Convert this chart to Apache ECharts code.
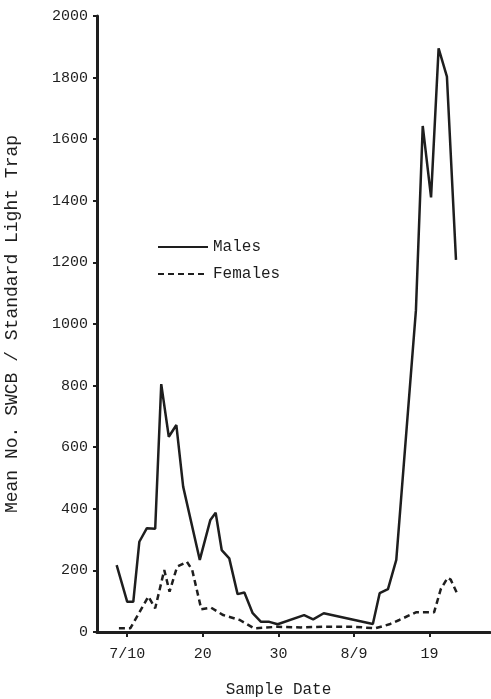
<!DOCTYPE html>
<html>
<head>
<meta charset="utf-8">
<script src="https://cdn.jsdelivr.net/npm/echarts@6/dist/echarts.min.js"></script>
<style>
html,body{margin:0;padding:0;background:#fff;}
#c{width:491px;height:699px;}
</style>
</head>
<body>
<div id="c"></div>
<script>
// Day numbers counted from July 1 (7/10 = 10, 8/9 = 40, 8/19 = 50)
const tickDays = [10, 20, 30, 40, 50];
const tickLabels = ['7/10', '20', '30', '8/9', '19'];

const maleDays = [8.6, 10, 10.8, 11.6, 12.6, 13.7, 14.5, 15.5, 16.5, 17.4, 19.6, 21, 21.7, 22.5, 23.5, 24.6, 25.5, 26.6, 27.7, 28.8, 29.9, 33.4, 34.6, 36, 42.5, 43.4, 44.5, 45.6, 48.2, 49.1, 50.2, 51.2, 52.3, 53.5];
const maleValues = [217, 98, 98, 293, 337, 335, 805, 634, 672, 472, 234, 364, 387, 266, 239, 123, 128, 61, 33, 33, 25, 55, 41, 61, 26, 126, 139, 234, 1045, 1643, 1411, 1895, 1803, 1208];

const femaleDays = [8.9, 10.4, 12.8, 13.7, 14.9, 15.6, 16.6, 17.9, 18.6, 19.8, 21.1, 22.7, 24.9, 26.8, 29.9, 33, 36, 40, 42.8, 44.7, 46, 48.2, 50.6, 51.5, 52.4, 52.8, 53.8];
const femaleValues = [12, 12, 115, 77, 201, 131, 212, 228, 201, 74, 79, 55, 39, 12, 17, 15, 17, 17, 12, 25, 39, 64, 64, 140, 176, 170, 117];

const FONT = "'Courier New', 'Liberation Mono', 'DejaVu Sans Mono', monospace";
const INK = '#1e1e1e';

const chart = echarts.init(document.getElementById('c'));
chart.setOption({
  backgroundColor: '#fff',
  animation: false,
  grid: { left: 97, right: 1, top: 16, bottom: 67, containLabel: false, outerBoundsMode: 'none' },
  legend: {
    orient: 'vertical',
    left: 152, top: 234,
    itemWidth: 50, itemHeight: 10, itemGap: 11,
    itemStyle: { opacity: 0 },
    textStyle: { fontFamily: FONT, fontSize: 16, color: INK },
    data: ['Males', 'Females']
  },
  xAxis: {
    type: 'value',
    min: 6, max: 58,
    name: 'Sample Date',
    nameLocation: 'middle',
    nameGap: 50,
    nameTextStyle: { fontFamily: FONT, fontSize: 16, color: INK, padding: [0, 30, 0, 0] },
    axisLine: { show: true, lineStyle: { color: INK, width: 3 } },
    axisTick: { show: true, length: 5, lineStyle: { color: INK, width: 2 }, customValues: tickDays },
    axisLabel: {
      customValues: tickDays,
      margin: 15,
      fontFamily: FONT, fontSize: 15, color: INK,
      formatter: v => tickLabels[tickDays.indexOf(v)] || ''
    },
    splitLine: { show: false }
  },
  yAxis: {
    type: 'value',
    min: 0, max: 2000, interval: 200,
    name: 'Mean No. SWCB / Standard Light Trap',
    nameLocation: 'middle',
    nameGap: 76,
    nameTextStyle: { fontFamily: FONT, fontSize: 18, color: INK },
    axisLine: { show: true, lineStyle: { color: INK, width: 3 } },
    axisTick: { show: true, length: 4, lineStyle: { color: INK, width: 2 } },
    axisLabel: { margin: 9, fontFamily: FONT, fontSize: 15, color: INK, formatter: v => String(v) },
    splitLine: { show: false }
  },
  series: [
    {
      name: 'Males', type: 'line', symbol: 'none',
      data: maleDays.map((d, i) => [d, maleValues[i]]),
      lineStyle: { color: INK, width: 2.5 },
      itemStyle: { color: INK }
    },
    {
      name: 'Females', type: 'line', symbol: 'none',
      data: femaleDays.map((d, i) => [d, femaleValues[i]]),
      lineStyle: { color: INK, width: 2.5, type: [6, 4] },
      itemStyle: { color: INK }
    }
  ]
});
</script>
</body>
</html>
